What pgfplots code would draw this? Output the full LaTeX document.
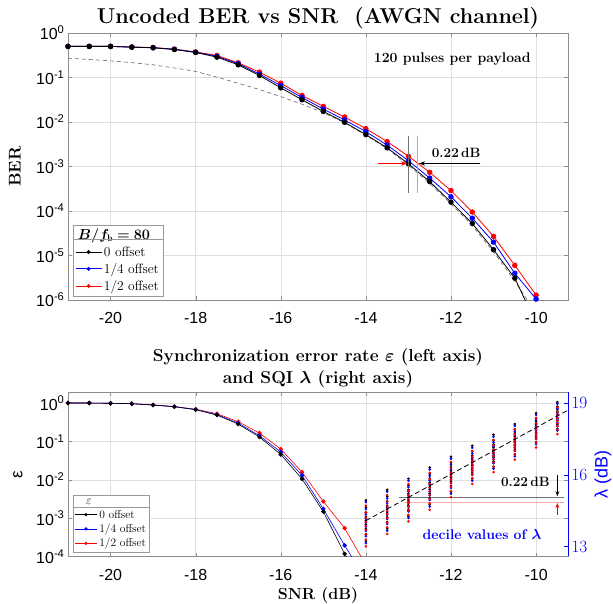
\documentclass[border=0pt]{standalone}
\usepackage{fontspec}
\usepackage{amsmath}
\usepackage{bm}
\usepackage{pgfplots}
\pgfplotsset{compat=1.18}
\usepackage{pgfplotstable}
\usetikzlibrary{arrows.meta}
\newfontfamily\hv{Liberation Sans}
\definecolor{mred}{rgb}{1,0,0}
\definecolor{mblue}{rgb}{0,0,1}

\pgfplotstableread{
x k b r th
-21 0.50 0.50 0.50 0.272
-20.5 0.50 0.50 0.50 0.254
-20 0.50 0.50 0.50 0.237
-19.5 0.48 0.482 0.485 0.216
-19 0.465 0.468 0.47 0.193
-18.5 0.426 0.43 0.435 0.164
-18 0.365 0.37 0.375 0.137
-17.5 0.287 0.299 0.313 0.102
-17 0.193 0.204 0.214 0.0741
-16.5 0.111 0.119 0.132 0.0537
-16 0.0586 0.066 0.0746 0.0372
-15.5 0.0316 0.0355 0.0395 0.0251
-15 0.01726 0.0195 0.0224 0.0162
-14.5 0.00984 0.0111 0.01294 0.00955
-14 0.0052 0.00608 0.0071 0.00501
-13.5 0.00263 0.00302 0.00363 0.00251
-13 0.00115 0.00135 0.0017 0.00107
-12.5 4.57e-4 5.5e-4 7.4e-4 4.17e-4
-12 1.58e-4 2.09e-4 2.88e-4 1.45e-4
-11.5 5.25e-5 6.9e-5 9.5e-5 4.68e-5
-11 1.35e-5 2.0e-5 2.69e-5 1.2e-5
-10.5 3.09e-6 3.98e-6 6.0e-6 2.69e-6
-10 3e-7 1.05e-6 1.29e-6 5e-7
}\berdata

\pgfplotstableread{
x k b r
-21 1.0 1.0 1.0
-20.5 1.0 1.0 1.0
-20 0.985 0.985 0.985
-19.5 0.96 0.962 0.963
-19 0.887 0.89 0.893
-18.5 0.80 0.805 0.81
-18 0.67 0.68 0.69
-17.5 0.486 0.50 0.527
-17 0.283 0.30 0.326
-16.5 0.130 0.141 0.165
-16 0.0457 0.0527 0.063
-15.5 0.0105 0.013 0.0158
-15 0.00148 0.00175 0.00272
-14.5 1.17e-4 1.95e-4 5.5e-4
-14 1.26e-5 2.5e-5 6e-5
}\epsdata

\pgfplotstableread{
x k b r
-14 13.22 13.14 13.00
-14 13.51 13.43 13.29
-14 13.73 13.65 13.51
-14 13.91 13.83 13.69
-14 14.08 14.00 13.86
-14 14.24 14.16 14.02
-14 14.42 14.34 14.20
-14 14.64 14.56 14.42
-14 14.93 14.85 14.71
-13.5 13.74 13.66 13.52
-13.5 14.02 13.94 13.80
-13.5 14.22 14.14 14.00
-13.5 14.40 14.32 14.18
-13.5 14.56 14.48 14.34
-13.5 14.71 14.63 14.49
-13.5 14.89 14.81 14.67
-13.5 15.09 15.01 14.87
-13.5 15.37 15.29 15.15
-13 14.27 14.19 14.05
-13 14.54 14.46 14.32
-13 14.73 14.65 14.51
-13 14.90 14.82 14.68
-13 15.05 14.97 14.83
-13 15.20 15.12 14.98
-13 15.37 15.29 15.15
-13 15.56 15.48 15.34
-13 15.83 15.75 15.61
-12.5 14.75 14.67 14.53
-12.5 15.02 14.94 14.80
-12.5 15.21 15.13 14.99
-12.5 15.37 15.29 15.15
-12.5 15.53 15.45 15.31
-12.5 15.68 15.60 15.46
-12.5 15.84 15.76 15.62
-12.5 16.03 15.95 15.81
-12.5 16.30 16.22 16.08
-12 15.28 15.20 15.06
-12 15.53 15.45 15.31
-12 15.72 15.64 15.50
-12 15.87 15.79 15.65
-12 16.02 15.94 15.80
-12 16.16 16.08 15.94
-12 16.31 16.23 16.09
-12 16.50 16.42 16.28
-12 16.75 16.67 16.53
-11.5 15.83 15.75 15.61
-11.5 16.07 15.99 15.85
-11.5 16.24 16.16 16.02
-11.5 16.39 16.31 16.17
-11.5 16.52 16.44 16.30
-11.5 16.66 16.58 16.44
-11.5 16.80 16.72 16.58
-11.5 16.97 16.89 16.75
-11.5 17.21 17.13 16.99
-11 16.33 16.25 16.11
-11 16.56 16.48 16.34
-11 16.73 16.65 16.51
-11 16.87 16.79 16.65
-11 17.00 16.92 16.78
-11 17.13 17.05 16.91
-11 17.27 17.19 17.05
-11 17.44 17.36 17.22
-11 17.67 17.59 17.45
-10.5 16.85 16.77 16.63
-10.5 17.07 16.99 16.85
-10.5 17.23 17.15 17.01
-10.5 17.36 17.28 17.14
-10.5 17.49 17.41 17.27
-10.5 17.61 17.53 17.39
-10.5 17.74 17.66 17.52
-10.5 17.90 17.82 17.68
-10.5 18.12 18.04 17.90
-10 17.36 17.28 17.14
-10 17.57 17.49 17.35
-10 17.72 17.64 17.50
-10 17.85 17.77 17.63
-10 17.97 17.89 17.75
-10 18.09 18.01 17.87
-10 18.22 18.14 18.00
-10 18.37 18.29 18.15
-10 18.58 18.50 18.36
-9.5 17.92 17.84 17.70
-9.5 18.11 18.03 17.89
-9.5 18.25 18.17 18.03
-9.5 18.37 18.29 18.15
-9.5 18.48 18.40 18.26
-9.5 18.59 18.51 18.37
-9.5 18.71 18.63 18.49
-9.5 18.85 18.77 18.63
-9.5 19.04 18.96 18.82
}\lamdata

\pgfplotsset{
  mystyle/.style={
    scale only axis, width=500pt,
    xmin=-21, xmax=-9.25,
    xtick={-20,-18,-16,-14,-12,-10},
    xticklabels={-20,-18,-16,-14,-12,-10},
    tick align=inside,
    major tick length=4pt,
    axis line style={black!45},
    tick style={black!45},
    grid=major,
    major grid style={black!12},
    tick label style={font=\hv\fontsize{16}{18}\selectfont},
    xticklabel style={yshift=-9pt},
    yminorticks=false,
    clip mode=individual,
  },
}

\begin{document}
\begin{tikzpicture}
% ---------------- top axis ----------------
\begin{axis}[mystyle, name=top, at={(0,0)}, anchor=south west, height=267pt,
  ymode=log, ymin=1e-6, ymax=1,
  ytick={1e-6,1e-5,1e-4,1e-3,1e-2,1e-1,1},
  yticklabels={10\textsuperscript{-6},10\textsuperscript{-5},10\textsuperscript{-4},10\textsuperscript{-3},10\textsuperscript{-2},10\textsuperscript{-1},10\textsuperscript{0}},
  title={Uncoded BER vs SNR\ \ (AWGN channel)},
  every axis title/.style={at={(axis description cs:0.5,1.0337)}, anchor=base, inner sep=0pt, font=\bfseries\fontsize{21.5}{25}\selectfont},
  ylabel={BER},
  every axis y label/.style={at={(axis description cs:-0.106,0.5)}, anchor=center, rotate=90, font=\bfseries\fontsize{17}{20}\selectfont},
  legend style={at={(axis description cs:0.01,0.015)}, anchor=south west, draw=black!40, font=\fontsize{13.5}{16}\selectfont, inner sep=2pt, row sep=1.5pt, name=leg1},
  legend cell align=left,
  reverse legend,
  legend image code/.code={\draw[mark repeat=2,mark phase=2,#1] plot coordinates {(0pt,0pt) (13pt,0pt) (26pt,0pt)};},
  legend image post style={mark size=1.5pt},
]
\addplot[black!60, dashed, dash pattern=on 4pt off 3pt, line width=0.6pt, forget plot] table[x=x,y=th]{\berdata};
\addplot[mred, line width=0.8pt, mark=*, mark size=2.3pt] table[x=x,y=r]{\berdata};
\addlegendentry{1/2 offset}
\addplot[mblue, line width=0.8pt, mark=*, mark size=2.3pt] table[x=x,y=b]{\berdata};
\addlegendentry{1/4 offset}
\addplot[black, line width=0.8pt, mark=*, mark size=2.3pt] table[x=x,y=k]{\berdata};
\addlegendentry{0 offset}
\addlegendimage{empty legend}
\addlegendentry{\hspace{-26pt}$\bm{B/f_{\mathrm{b}}=80}$}
\draw[black!55, line width=0.6pt] (axis cs:-13,0.0049) -- (axis cs:-13,0.00025);
\draw[red!45, line width=0.6pt] (axis cs:-12.78,0.0049) -- (axis cs:-12.78,0.00025);
\draw[mred, line width=0.7pt, -{Stealth[length=6pt]}] (axis cs:-13.72,0.00117) -- (axis cs:-13.03,0.00117);
\draw[black, line width=0.7pt, -{Stealth[length=6pt]}] (axis cs:-11.31,0.00117) -- (axis cs:-12.75,0.00117);
\node[font=\bfseries\fontsize{13.5}{16}\selectfont] at (axis cs:-11.88,0.002) {0.22\,dB};
\node[font=\bfseries\fontsize{14}{16}\selectfont] at (axis cs:-11.97,0.26) {120 pulses per payload};
\end{axis}
\draw[black!40] ([yshift=-15pt]leg1.north west) -- ([yshift=-15pt]leg1.north east);

% ---------------- bottom left axis ----------------
\begin{axis}[mystyle, name=bot, at={(0,-92pt)}, anchor=north west, height=164.5pt,
  ymode=log, ymin=1e-4, ymax=1.94,
  ytick={1e-4,1e-3,1e-2,1e-1,1},
  yticklabels={10\textsuperscript{-4},10\textsuperscript{-3},10\textsuperscript{-2},10\textsuperscript{-1},10\textsuperscript{0}},
  xlabel={SNR (dB)},
  every axis x label/.style={at={(axis description cs:0.5,-0.24)}, anchor=center, font=\bfseries\fontsize{16}{19}\selectfont},
  title={Synchronization error rate $\bm{\varepsilon}$ (left axis)\\and SQI $\bm{\lambda}$ (right axis)},
  every axis title/.style={at={(axis description cs:0.5,1.024)}, anchor=south, inner sep=0pt, align=center, font=\bfseries\fontsize{17.3}{22}\selectfont},
  ylabel={\hv ε},
  every axis y label/.style={at={(axis description cs:-0.1,0.5)}, anchor=center, rotate=90, font=\fontsize{17}{20}\selectfont},
  legend style={at={(axis description cs:0.01,0.027)}, anchor=south west, draw=black!40, font=\fontsize{11.5}{13}\selectfont, inner sep=1.5pt, row sep=0.3pt, name=leg2},
  legend cell align=left,
  reverse legend,
  legend image code/.code={\draw[mark repeat=2,mark phase=2,#1] plot coordinates {(0pt,0pt) (11pt,0pt) (22pt,0pt)};},
  legend image post style={mark size=1.3pt},
]
\addplot[mred, line width=0.6pt, mark=*, mark size=1.9pt] table[x=x,y=r]{\epsdata};
\addlegendentry{1/2 offset}
\addplot[mblue, line width=0.6pt, mark=*, mark size=1.9pt] table[x=x,y=b]{\epsdata};
\addlegendentry{1/4 offset}
\addplot[black, line width=0.6pt, mark=*, mark size=1.9pt] table[x=x,y=k]{\epsdata};
\addlegendentry{0 offset}
\addlegendimage{empty legend}
\addlegendentry{\hspace{-18pt}$\varepsilon$}
\end{axis}
\draw[black!40] ([yshift=-12pt]leg2.north west) -- ([yshift=-12pt]leg2.north east);

% ---------------- bottom right axis ----------------
\begin{axis}[scale only axis, width=500pt, height=164.5pt, at={(0,-92pt)}, anchor=north west,
  xmin=-21, xmax=-9.25, axis x line=none, axis y line*=right,
  ymin=12.58, ymax=19.46, ytick={13,16,19},
  tick align=inside, major tick length=4pt,
  axis line style={mblue}, ytick style={mblue},
  yticklabel style={mblue, font=\hv\fontsize{16}{18}\selectfont},
  ylabel={\hv λ (dB)},
  ylabel style={at={(axis description cs:1.07,0.5)}, anchor=center, font=\fontsize{18}{20}\selectfont, text=mblue},
  clip mode=individual,
]
\draw[black!55, line width=0.7pt] (axis cs:-13.22,15.06) -- (axis cs:-9.35,15.06);
\draw[red!35, line width=1.4pt] (axis cs:-13.1,14.84) -- (axis cs:-9.35,14.84);
\addplot[only marks, mark=*, mark size=1.1pt, black] table[x=x,y=k]{\lamdata};
\addplot[only marks, mark=*, mark size=1.1pt, mblue] table[x=x,y=b]{\lamdata};
\addplot[only marks, mark=*, mark size=1.1pt, mred] table[x=x,y=r]{\lamdata};
\addplot[black, dash pattern=on 5pt off 3pt, line width=0.8pt] coordinates {(-14,14.08) (-9.25,18.70)};
\draw[black, -{Stealth[length=5pt]}, line width=0.7pt] (axis cs:-9.5,16.0) -- (axis cs:-9.5,15.1);
\draw[mred, -{Stealth[length=5pt]}, line width=0.7pt] (axis cs:-9.5,14.33) -- (axis cs:-9.5,14.82);
\node[font=\bfseries\fontsize{13.5}{16}\selectfont, anchor=east] at (axis cs:-9.6,15.72) {0.22\,dB};
\node[font=\bfseries\fontsize{14}{16}\selectfont, text=mblue] at (axis cs:-11.27,13.49) {decile values of $\bm{\lambda}$};
\end{axis}

\pgfresetboundingbox
\useasboundingbox (-68pt,-304pt) rectangle (545pt,300pt);
\end{tikzpicture}
\end{document}
